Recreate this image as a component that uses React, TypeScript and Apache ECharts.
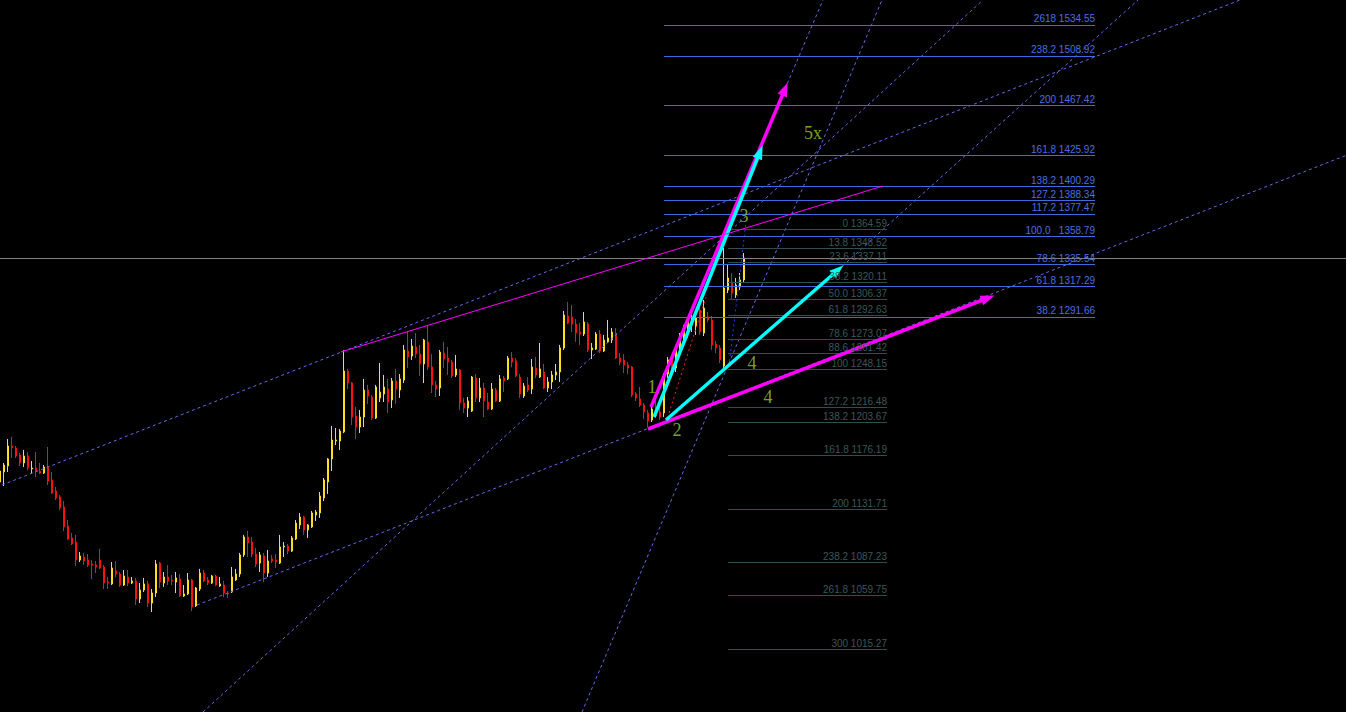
import React, { useEffect, useRef } from 'react';
import * as echarts from 'echarts';

const TOTAL_SLOTS = 337;
const PRICE_MIN = 962.85;
const PRICE_MAX = 1555.35;

const opens = [1154.3,1162.6,1167.6,1184.2,1182.5,1176.7,1170.1,1175.9,1165.1,1165.9,1163.4,1161.7,1166.7,1155.9,1146.8,1141.8,1133.4,1117.6,1107.7,1104.3,1089.3,1091.8,1089.3,1086.0,1085.2,1089.3,1083.5,1071.0,1069.4,1080.2,1077.7,1068.5,1075.2,1070.2,1071.9,1056.9,1064.4,1069.4,1053.5,1061.9,1086.8,1070.2,1075.2,1072.7,1071.0,1073.5,1059.4,1061.1,1072.7,1051.1,1065.2,1078.5,1072.7,1070.2,1076.0,1067.7,1068.5,1061.9,1062.7,1072.7,1077.7,1093.5,1108.5,1104.3,1094.3,1086.8,1092.7,1078.5,1090.2,1089.3,1086.8,1100.2,1101.0,1096.8,1106.8,1118.5,1125.1,1114.3,1116.8,1126.8,1128.5,1140.9,1154.3,1173.4,1188.4,1188.4,1195.9,1246.6,1236.6,1209.2,1200.0,1208.3,1230.8,1225.0,1207.5,1224.2,1227.5,1231.6,1222.5,1238.3,1230.8,1239.1,1263.3,1259.1,1266.6,1260.8,1252.5,1270.8,1249.9,1235.0,1232.5,1261.6,1257.4,1254.1,1243.3,1247.5,1220.0,1215.8,1213.3,1240.8,1224.2,1232.5,1220.8,1215.0,1230.8,1221.7,1240.8,1240.0,1257.4,1255.0,1241.6,1225.8,1235.0,1231.6,1249.1,1241.6,1245.8,1232.5,1237.5,1243.3,1245.8,1265.8,1292.4,1291.5,1285.7,1279.1,1277.4,1285.7,1264.1,1264.9,1277.4,1263.3,1270.8,1272.4,1278.2,1257.4,1255.8,1251.6,1249.9,1227.5,1223.3,1218.3,1211.7,1205.9,1213.3,1212.5,1211.7,1244.1,1255.8,1249.1,1264.1,1274.1,1280.7,1284.9,1284.1,1297.4,1278.2,1291.5,1289.1,1269.1,1265.8,1250.8,1314.0,1320.7,1309.9,1316.5,1322.4];
const closes = [1163.4,1168.4,1184.2,1182.5,1175.9,1170.1,1175.9,1165.9,1165.9,1163.4,1161.7,1166.7,1155.1,1145.1,1140.9,1132.6,1116.8,1106.8,1102.7,1089.3,1092.7,1088.5,1085.2,1085.2,1083.5,1082.7,1070.2,1070.2,1082.7,1077.7,1068.5,1076.0,1070.2,1071.9,1056.9,1064.4,1069.4,1053.5,1061.9,1086.0,1071.0,1075.2,1071.9,1071.9,1074.4,1059.4,1061.1,1072.7,1050.2,1066.0,1078.5,1071.9,1070.2,1076.0,1068.5,1069.4,1061.9,1061.1,1075.2,1077.7,1093.5,1108.5,1103.5,1094.3,1086.0,1093.5,1078.5,1088.5,1088.5,1087.7,1100.2,1101.0,1096.8,1107.7,1120.1,1125.1,1114.3,1118.5,1128.5,1129.3,1142.6,1155.9,1173.4,1189.2,1189.2,1196.7,1246.6,1236.6,1208.3,1200.0,1208.3,1230.8,1225.8,1207.5,1233.3,1229.1,1233.3,1220.8,1238.3,1231.6,1240.0,1264.1,1258.3,1267.4,1260.8,1252.5,1272.4,1249.9,1235.0,1231.6,1262.4,1256.6,1254.1,1242.5,1248.3,1220.0,1215.8,1221.7,1241.6,1224.2,1232.5,1221.7,1215.0,1231.6,1221.7,1240.0,1238.3,1257.4,1254.1,1242.5,1227.5,1234.1,1230.8,1249.9,1243.3,1248.3,1232.5,1237.5,1243.3,1245.8,1265.8,1293.2,1286.6,1285.7,1278.2,1277.4,1287.4,1264.1,1265.8,1277.4,1263.3,1272.4,1274.1,1279.1,1257.4,1254.1,1251.6,1249.1,1226.7,1224.2,1218.3,1212.5,1205.0,1215.0,1209.2,1208.3,1244.1,1255.8,1249.1,1264.1,1274.1,1280.7,1287.4,1290.7,1290.7,1279.1,1299.0,1289.1,1268.3,1265.8,1255.8,1315.7,1324.0,1311.5,1318.2,1322.4,1340.6];
const lows = [1152.6,1150.9,1162.6,1174.2,1174.2,1167.6,1166.7,1164.2,1161.7,1158.4,1160.9,1160.9,1151.8,1144.3,1139.3,1131.0,1113.5,1106.0,1101.8,1084.4,1087.7,1085.2,1083.5,1073.5,1078.5,1081.9,1065.2,1065.2,1068.5,1075.2,1066.9,1067.7,1067.7,1069.4,1051.9,1053.5,1062.7,1050.2,1046.1,1058.6,1066.0,1066.9,1068.5,1068.5,1061.9,1058.6,1058.6,1060.2,1046.9,1050.2,1063.5,1071.0,1068.5,1069.4,1067.7,1066.9,1058.6,1057.7,1061.9,1071.9,1075.2,1091.8,1091.8,1091.8,1083.5,1079.4,1071.0,1075.2,1086.8,1082.7,1086.0,1091.8,1094.3,1096.0,1106.0,1115.1,1110.2,1107.7,1116.0,1121.8,1124.3,1138.4,1144.3,1163.4,1185.0,1180.9,1195.0,1231.6,1201.7,1190.0,1195.0,1200.0,1219.2,1205.9,1206.7,1220.8,1220.8,1211.7,1215.8,1219.2,1224.2,1236.6,1249.1,1255.8,1257.4,1242.5,1236.6,1247.5,1228.3,1225.0,1225.8,1249.1,1243.3,1240.8,1241.6,1214.2,1211.7,1208.3,1212.5,1220.8,1220.8,1208.3,1214.2,1214.2,1220.8,1220.8,1229.1,1239.1,1249.9,1241.6,1224.2,1224.2,1229.1,1227.5,1240.8,1240.8,1231.6,1229.1,1231.6,1239.1,1237.5,1264.1,1285.7,1279.1,1270.8,1268.3,1275.7,1262.4,1256.6,1264.1,1261.6,1262.4,1269.9,1269.9,1256.6,1251.6,1244.9,1244.1,1225.0,1221.7,1216.7,1206.7,1200.0,1204.2,1207.5,1205.9,1208.3,1240.8,1245.8,1245.8,1259.1,1268.3,1274.1,1279.1,1276.6,1276.6,1275.7,1287.4,1264.1,1261.6,1253.3,1249.1,1311.5,1305.7,1307.4,1314.0,1320.7];
const highs = [1170.1,1170.1,1190.0,1191.7,1184.2,1178.4,1180.9,1179.2,1171.7,1179.2,1170.1,1168.4,1183.4,1162.6,1150.1,1143.4,1138.4,1122.6,1111.8,1110.2,1096.0,1095.2,1094.3,1089.3,1088.5,1098.5,1085.2,1075.2,1087.7,1088.5,1079.4,1081.0,1081.0,1075.2,1074.4,1070.2,1074.4,1071.9,1065.2,1089.3,1087.7,1079.4,1085.2,1076.9,1079.4,1077.7,1068.5,1078.5,1073.5,1066.9,1081.9,1081.0,1075.2,1076.9,1076.9,1075.2,1071.9,1063.5,1083.5,1081.9,1095.2,1110.2,1113.5,1108.5,1099.3,1096.0,1095.2,1097.7,1093.5,1094.3,1110.2,1104.3,1102.7,1109.3,1122.6,1128.5,1126.0,1119.3,1130.1,1131.0,1145.9,1157.6,1174.2,1200.9,1199.2,1198.4,1264.1,1248.3,1237.5,1216.7,1214.2,1240.0,1235.0,1226.7,1235.0,1253.3,1243.3,1240.0,1240.8,1248.3,1244.1,1268.3,1279.9,1273.3,1278.2,1268.3,1273.3,1284.1,1260.8,1238.3,1264.1,1270.8,1266.6,1255.8,1259.9,1248.3,1224.2,1225.0,1242.5,1244.1,1240.8,1236.6,1228.3,1236.6,1232.5,1243.3,1242.5,1259.1,1262.4,1257.4,1244.1,1236.6,1241.6,1256.6,1258.3,1269.9,1252.5,1241.6,1246.6,1252.5,1268.3,1296.6,1304.0,1301.6,1289.9,1286.6,1295.7,1287.4,1269.9,1279.1,1280.7,1276.6,1289.1,1282.4,1282.4,1261.6,1260.8,1254.1,1250.8,1229.1,1233.3,1220.0,1214.2,1218.3,1222.5,1218.3,1244.9,1258.3,1259.9,1266.6,1278.2,1284.9,1290.7,1297.4,1294.9,1305.7,1305.7,1295.7,1292.4,1271.6,1268.3,1349.0,1335.7,1328.2,1324.0,1328.2,1344.8];

const blueFibRatios = ['2618', '238.2', '200', '161.8', '138.2', '127.2', '117.2', '100.0  ', '78.6', '61.8', '38.2'];
const blueFibPrices = [1534.55, 1508.92, 1467.42, 1425.92, 1400.29, 1388.34, 1377.47, 1358.79, 1335.54, 1317.29, 1291.66];
const blueFibSpan = [166, 273.75];

const grayFibRatios = ['0', '13.8', '23.6', '38.2', '50.0', '61.8', '78.6', '88.6', '100', '127.2', '138.2', '161.8', '200', '238.2', '261.8', '300'];
const grayFibPrices = [1364.59, 1348.52, 1337.11, 1320.11, 1306.37, 1292.63, 1273.07, 1261.42, 1248.15, 1216.48, 1203.67, 1176.19, 1131.71, 1087.23, 1059.75, 1015.27];
const grayFibSpan = [182, 221.75];

// dashed trend / fan lines: [[bar, price], [bar, price]]
const dashedLines = [
  [[0.5, 1151.76], [310, 1555.35]],
  [[49.25, 1051.9], [336.75, 1426.37]],
  [[50.75, 962.86], [245.75, 1555.35]],
  [[145.5, 962.86], [220.5, 1555.35]],
  [[196.25, 1481.29], [205.75, 1555.35]],
  [[209.5, 1330.67], [284.5, 1555.35]],
];
const highsTrendLine = [[85.25, 1262.43], [220.75, 1400.57]];
const redDottedLine = [[167.25, 1211.67], [176.5, 1308.2]];
const blueDottedLine = [[182.25, 1250.78], [186.5, 1370.61]];

const magentaArrows = [
  [[162.75, 1216.66], [196.25, 1481.29]],
  [[162, 1198.35], [247, 1307.37]],
];
const cyanArrows = [
  [[163.5, 1208.34], [190, 1428.86]],
  [[166.5, 1205.85], [209.5, 1330.67]],
];

const waveLabels = ['1', '2', '3', '4', '4', '5x'];
const waveBars = [163, 169.25, 186, 188, 192, 203.25];
const wavePrices = [1233.3, 1197.5, 1375.6, 1253.3, 1225.0, 1444.7];

export default function App() {
  const ref = useRef<HTMLDivElement>(null);

  useEffect(() => {
    if (!ref.current) return;
    const chart = echarts.init(ref.current, null, { renderer: 'svg' });

    const categories = Array.from({ length: TOTAL_SLOTS }, (_, i) => String(i));
    const candleData = opens.map((o, i) => [o, closes[i], lows[i], highs[i]]);
    const lastClose = closes[closes.length - 1];

    const fibMarkData = (ratios: string[], prices: number[], span: number[]) =>
      prices.map((p, i) => [
        { name: `${ratios[i]} ${p.toFixed(2)}`, coord: [span[0], p] },
        { coord: [span[1], p] },
      ]);

    const lineSeries = (pts: number[][], color: string, dash: any, width: number, z: number) => ({
      type: 'line',
      xAxisIndex: 1,
      data: pts,
      symbol: 'none',
      silent: true,
      z,
      lineStyle: { color, width, type: dash },
    });

    const arrowSeries = (arrows: number[][][], color: string) => ({
      type: 'line',
      xAxisIndex: 1,
      data: [],
      z: 6,
      silent: true,
      markLine: {
        silent: true,
        symbol: ['none', 'triangle'],
        symbolSize: [10, 14],
        lineStyle: { color, width: 3.5, type: 'solid' },
        itemStyle: { color },
        label: { show: false },
        data: arrows.map((a) => [{ coord: a[0] }, { coord: a[1] }]),
      },
    });

    const option: any = {
      animation: false,
      backgroundColor: '#000000',
      grid: { left: 0, right: 0, top: 0, bottom: 0 },
      xAxis: [
        { type: 'category', data: categories, boundaryGap: true, show: false },
        { type: 'value', min: -0.5, max: TOTAL_SLOTS - 0.5, show: false },
      ],
      yAxis: { type: 'value', min: PRICE_MIN, max: PRICE_MAX, show: false },
      series: [
        {
          type: 'line',
          xAxisIndex: 1,
          data: [],
          z: 1,
          silent: true,
          markLine: {
            silent: true,
            symbol: 'none',
            label: { show: false },
            lineStyle: { color: '#808080', width: 1, type: 'solid' },
            data: [{ yAxis: lastClose }],
          },
        },
        {
          type: 'line',
          xAxisIndex: 1,
          data: [],
          z: 2,
          silent: true,
          markLine: {
            silent: true,
            symbol: 'none',
            lineStyle: { color: '#4169E1', width: 1, type: 'solid' },
            label: {
              show: true,
              position: 'insideEndTop',
              formatter: '{b}',
              color: '#4A6FE3',
              fontSize: 10,
              fontFamily: 'Liberation Sans',
              distance: [0, 1],
            },
            data: fibMarkData(blueFibRatios, blueFibPrices, blueFibSpan),
          },
        },
        {
          type: 'line',
          xAxisIndex: 1,
          data: [],
          z: 2,
          silent: true,
          markLine: {
            silent: true,
            symbol: 'none',
            lineStyle: { color: '#2F4F4F', width: 1, type: 'solid' },
            label: {
              show: true,
              position: 'insideEndTop',
              formatter: '{b}',
              color: '#3B5757',
              fontSize: 10,
              fontFamily: 'Liberation Sans',
              distance: [0, 1],
            },
            data: fibMarkData(grayFibRatios, grayFibPrices, grayFibSpan),
          },
        },
        {
          type: 'candlestick',
          xAxisIndex: 0,
          data: candleData,
          barWidth: 2,
          z: 3,
          silent: true,
          itemStyle: {
            color: '#F2CC00',
            color0: '#D8384C',
            borderColor: '#FFE01A',
            borderColor0: '#FF1010',
            borderWidth: 1,
          },
        },
        ...dashedLines.map((l) => lineSeries(l, '#6868E8', [3, 3], 1, 4)),
        lineSeries(redDottedLine, '#FF2020', [2, 3], 1, 4),
        lineSeries(blueDottedLine, '#2436FF', [2, 3], 1, 4),
        lineSeries(highsTrendLine, '#FF00FF', 'solid', 1, 5),
        arrowSeries(magentaArrows, '#FF00FF'),
        arrowSeries(cyanArrows, '#00FFFF'),
        {
          type: 'scatter',
          xAxisIndex: 1,
          z: 7,
          silent: true,
          symbolSize: 1,
          itemStyle: { color: 'rgba(0,0,0,0)' },
          label: {
            show: true,
            position: 'inside',
            formatter: '{b}',
            color: '#9ACD32',
            fontSize: 18,
            fontFamily: 'Liberation Serif',
          },
          data: waveLabels.map((t, i) => ({ name: t, value: [waveBars[i], wavePrices[i]] })),
        },
      ],
    };

    chart.setOption(option);
    return () => chart.dispose();
  }, []);

  return (
    <div
      ref={ref}
      style={{ position: 'fixed', left: -2, top: 0, width: 1348, height: 712, background: '#000' }}
    />
  );
}
